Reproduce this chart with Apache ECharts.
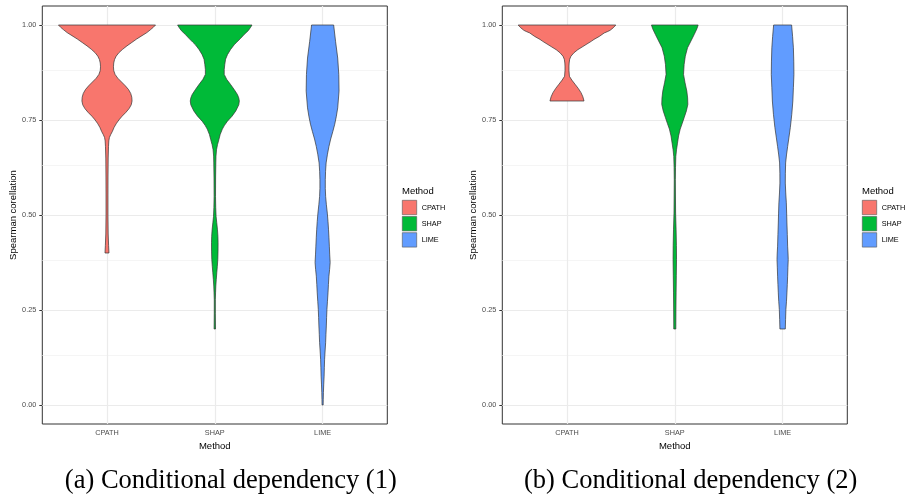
<!DOCTYPE html>
<html style="height: 100%">
<head>
<meta charset="utf-8">
</head>
<body style="height: 100%; margin: 0; background: #fff">
<div id="container" style="width: 908px; height: 500px;"></div>
<script type="text/javascript" src="https://cdn.jsdelivr.net/npm/echarts@6/dist/echarts.min.js"></script>
<script type="text/javascript">
// categories, tick values, legend colours
var methods = ['CPATH', 'SHAP', 'LIME'];
var fills = ['#F8766D', '#00BA38', '#619CFF'];
var yTicks = [0, 0.25, 0.5, 0.75, 1];
var yMinor = [0.125, 0.375, 0.625, 0.875];
var captions = ['(a) Conditional dependency (1)', '(b) Conditional dependency (2)'];

// violin outlines: [Spearman value, violin width in category units]
var cpathA = [[1.000,0.90],[0.994,0.86],[0.988,0.81],[0.980,0.74],[0.972,0.65],[0.963,0.55],[0.954,0.46],[0.945,0.37],[0.936,0.29],[0.927,0.22],[0.918,0.17],[0.909,0.14],[0.900,0.125],[0.890,0.12],[0.880,0.125],[0.870,0.15],[0.860,0.20],[0.850,0.27],[0.840,0.34],[0.830,0.40],[0.820,0.44],[0.810,0.46],[0.800,0.465],[0.790,0.45],[0.780,0.41],[0.770,0.35],[0.760,0.28],[0.750,0.22],[0.740,0.17],[0.730,0.13],[0.720,0.10],[0.712,0.07],[0.704,0.045],[0.695,0.034],[0.680,0.028],[0.650,0.022],[0.600,0.019],[0.550,0.018],[0.500,0.018],[0.450,0.022],[0.420,0.03],[0.400,0.037]];
var shapA = [[1.000,0.69],[0.994,0.665],[0.985,0.62],[0.975,0.545],[0.965,0.48],[0.955,0.41],[0.948,0.36],[0.935,0.29],[0.922,0.235],[0.910,0.20],[0.896,0.185],[0.883,0.175],[0.870,0.175],[0.857,0.22],[0.844,0.29],[0.830,0.36],[0.817,0.42],[0.808,0.445],[0.800,0.455],[0.790,0.445],[0.774,0.39],[0.760,0.32],[0.747,0.235],[0.736,0.18],[0.726,0.14],[0.712,0.10],[0.698,0.075],[0.685,0.05],[0.672,0.032],[0.655,0.022],[0.637,0.019],[0.600,0.015],[0.549,0.013],[0.520,0.017],[0.496,0.024],[0.480,0.036],[0.461,0.05],[0.444,0.058],[0.427,0.061],[0.405,0.06],[0.383,0.056],[0.365,0.047],[0.348,0.037],[0.330,0.027],[0.313,0.019],[0.295,0.014],[0.278,0.01],[0.240,0.01],[0.200,0.013]];
var limeA = [[1.000,0.205],[0.957,0.24],[0.913,0.28],[0.870,0.30],[0.826,0.305],[0.782,0.28],[0.760,0.255],[0.739,0.225],[0.720,0.19],[0.700,0.15],[0.680,0.117],[0.660,0.09],[0.637,0.065],[0.615,0.055],[0.593,0.05],[0.570,0.05],[0.549,0.056],[0.527,0.07],[0.505,0.087],[0.483,0.10],[0.461,0.11],[0.440,0.118],[0.418,0.125],[0.395,0.132],[0.375,0.14],[0.357,0.13],[0.339,0.117],[0.317,0.108],[0.295,0.10],[0.273,0.09],[0.251,0.08],[0.230,0.074],[0.208,0.069],[0.186,0.062],[0.164,0.056],[0.142,0.046],[0.120,0.037],[0.098,0.032],[0.076,0.028],[0.055,0.021],[0.033,0.015],[0.015,0.012],[0.000,0.01]];
var cpathB = [[1.000,0.905],[0.993,0.86],[0.986,0.80],[0.983,0.757],[0.979,0.69],[0.970,0.60],[0.962,0.50],[0.957,0.45],[0.950,0.37],[0.942,0.28],[0.935,0.20],[0.927,0.13],[0.918,0.074],[0.910,0.05],[0.900,0.04],[0.892,0.037],[0.880,0.037],[0.865,0.045],[0.855,0.09],[0.844,0.15],[0.833,0.21],[0.822,0.26],[0.811,0.295],[0.800,0.316]];
var shapB = [[1.000,0.433],[0.990,0.41],[0.975,0.36],[0.958,0.30],[0.940,0.236],[0.918,0.195],[0.896,0.173],[0.870,0.162],[0.848,0.19],[0.826,0.223],[0.808,0.238],[0.791,0.242],[0.774,0.215],[0.756,0.173],[0.740,0.135],[0.726,0.10],[0.708,0.07],[0.689,0.05],[0.672,0.032],[0.654,0.019],[0.625,0.013],[0.593,0.01],[0.550,0.012],[0.505,0.015],[0.461,0.024],[0.420,0.03],[0.383,0.032],[0.340,0.028],[0.295,0.024],[0.250,0.021],[0.200,0.019]];
var limeB = [[1.000,0.167],[0.970,0.185],[0.940,0.20],[0.905,0.207],[0.870,0.21],[0.835,0.20],[0.800,0.19],[0.765,0.17],[0.730,0.143],[0.705,0.118],[0.680,0.093],[0.658,0.072],[0.637,0.056],[0.610,0.051],[0.584,0.05],[0.558,0.058],[0.532,0.069],[0.505,0.075],[0.479,0.08],[0.449,0.087],[0.418,0.093],[0.400,0.10],[0.383,0.104],[0.361,0.098],[0.339,0.093],[0.317,0.087],[0.295,0.08],[0.273,0.072],[0.251,0.061],[0.225,0.055],[0.200,0.05]];

var panels = [[cpathA, shapA, limeA], [cpathB, shapB, limeB]];

var dom = document.getElementById('container');
var myChart = echarts.init(dom, null, { renderer: 'canvas' });

var FONT = '"Liberation Sans", Arial, sans-serif';
var SERIF = '"Liberation Serif", "Times New Roman", serif';
var gridLeft = [42.3, 502.3];
var legendLeft = [402, 862];

function violin(points, cat, fill) {
    return function (params, api) {
        var left = [], right = [];
        points.forEach(function (p) {
            left.push(api.coord([cat - p[1] / 2, p[0]]));
            right.unshift(api.coord([cat + p[1] / 2, p[0]]));
        });
        return {
            type: 'polygon',
            shape: { points: left.concat(right) },
            style: { fill: fill, stroke: '#333', lineWidth: 0.7 }
        };
    };
}

var grids = [], xAxes = [], yAxes = [], series = [], legends = [], graphics = [];

panels.forEach(function (sets, g) {
    grids.push({
        left: gridLeft[g], top: 6, width: 345, height: 418,
        show: true, borderColor: '#333', borderWidth: 1, backgroundColor: '#fff'
    });
    xAxes.push({
        gridIndex: g, type: 'value', min: 0.4, max: 3.6,
        name: 'Method', nameLocation: 'middle', nameGap: 12.5,
        nameTextStyle: { fontFamily: FONT, fontSize: 9.5, color: '#000' },
        axisLine: { show: false },
        splitLine: { show: false },
        axisTick: { show: true, length: 3, customValues: [1, 2, 3], lineStyle: { color: '#333' } },
        axisLabel: {
            customValues: [1, 2, 3], margin: 5, fontFamily: FONT, fontSize: 7.3, color: '#4D4D4D',
            formatter: function (v) { return methods[Math.round(v) - 1]; }
        }
    });
    yAxes.push({
        gridIndex: g, type: 'value', min: -0.05, max: 1.05,
        name: 'Spearman corellation', nameLocation: 'middle', nameGap: 21.5,
        nameTextStyle: { fontFamily: FONT, fontSize: 9.5, color: '#000' },
        axisLine: { show: false },
        splitLine: { show: false },
        axisTick: { show: true, length: 3, customValues: yTicks, lineStyle: { color: '#333' } },
        axisLabel: {
            customValues: yTicks, margin: 6, fontFamily: FONT, fontSize: 7.3, color: '#4D4D4D',
            formatter: function (v) { return v.toFixed(2); }
        }
    });

    // panel grid lines, kept under the violins
    var lines = [];
    yMinor.forEach(function (v) { lines.push({ yAxis: v, lineStyle: { color: '#F2F2F2', width: 0.8, type: 'solid' } }); });
    yTicks.forEach(function (v) { lines.push({ yAxis: v, lineStyle: { color: '#EBEBEB', width: 1.2, type: 'solid' } }); });
    [1, 2, 3].forEach(function (v) { lines.push({ xAxis: v, lineStyle: { color: '#EBEBEB', width: 1.2, type: 'solid' } }); });
    series.push({
        type: 'line', xAxisIndex: g, yAxisIndex: g, data: [], z: 1, silent: true,
        markLine: { z: 1, symbol: ['none', 'none'], silent: true, label: { show: false }, animation: false, data: lines }
    });

    sets.forEach(function (pts, i) {
        series.push({
            type: 'custom', name: methods[i], xAxisIndex: g, yAxisIndex: g, z: 6,
            itemStyle: { color: fills[i] },
            data: [[i + 1, pts[0][0]]],
            renderItem: violin(pts, i + 1, fills[i])
        });
    });

    legends.push({
        left: legendLeft[g], top: 200, orient: 'vertical', selectedMode: false, padding: 0,
        itemWidth: 14.4, itemHeight: 14.4, itemGap: 1.2, icon: 'rect',
        itemStyle: { borderColor: '#555', borderWidth: 0.6 },
        textStyle: { fontFamily: FONT, fontSize: 7.3, color: '#000', padding: [0, 0, 0, 0] },
        data: methods.map(function (m, i) { return { name: m, itemStyle: { color: fills[i] } }; })
    });
    graphics.push({
        type: 'text', left: legendLeft[g], top: 186,
        style: { text: 'Method', font: '9.5px ' + FONT, fill: '#000' }
    });
});

graphics.push({
    type: 'text', x: 230.8, y: 481,
    style: { text: captions[0], font: '26.5px ' + SERIF, fill: '#000', align: 'center', verticalAlign: 'middle' }
});
graphics.push({
    type: 'text', x: 690.7, y: 481,
    style: { text: captions[1], font: '26.5px ' + SERIF, fill: '#000', align: 'center', verticalAlign: 'middle' }
});

var option = {
    animation: false,
    backgroundColor: '#fff',
    grid: grids,
    xAxis: xAxes,
    yAxis: yAxes,
    legend: legends,
    graphic: graphics,
    series: series
};

if (option && typeof option === 'object') {
    myChart.setOption(option);
}
</script>
</body>
</html>
